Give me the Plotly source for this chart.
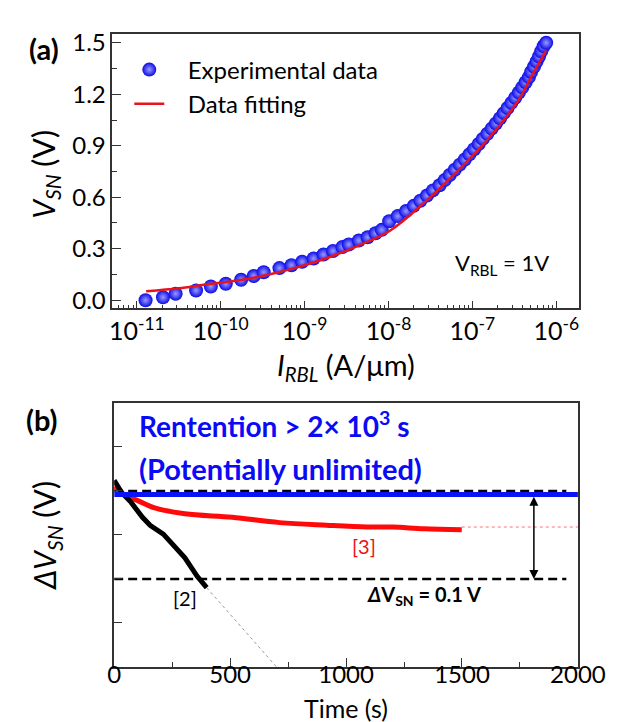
import plotly.graph_objects as go

W, H = 631, 722

# ---------------- Panel (a) data ----------------
exp_current = [1.27e-11, 2.05e-11, 2.90e-11, 5.08e-11, 7.62e-11, 1.15e-10, 1.75e-10,
               2.47e-10, 3.25e-10, 5.01e-10, 6.97e-10, 9.35e-10, 1.28e-9, 1.68e-9,
               2.18e-9, 2.83e-9, 3.36e-9, 4.43e-9, 5.64e-9, 7.00e-9, 8.32e-9, 1.02e-8,
               1.29e-8, 1.62e-8, 2.00e-8, 2.40e-8, 2.88e-8, 3.39e-8, 4.07e-8, 4.68e-8,
               5.37e-8, 6.17e-8, 7.08e-8, 8.13e-8, 9.23e-8, 1.05e-7, 1.19e-7, 1.33e-7,
               1.51e-7, 1.70e-7, 1.91e-7, 2.14e-7, 2.37e-7, 2.63e-7, 2.92e-7, 3.24e-7,
               3.59e-7, 3.94e-7, 4.32e-7, 4.73e-7, 5.01e-7, 5.43e-7, 5.82e-7, 6.24e-7,
               6.61e-7, 7.08e-7, 7.59e-7]
exp_vsn = [0.000, 0.017, 0.038, 0.057, 0.080, 0.096, 0.119,
           0.141, 0.163, 0.187, 0.204, 0.224, 0.243, 0.266,
           0.287, 0.310, 0.325, 0.348, 0.367, 0.390, 0.410, 0.460,
           0.490, 0.520, 0.550, 0.580, 0.610, 0.640, 0.670, 0.700,
           0.730, 0.760, 0.790, 0.820, 0.850, 0.880, 0.910, 0.940,
           0.970, 1.000, 1.030, 1.060, 1.090, 1.120, 1.150, 1.180,
           1.210, 1.240, 1.270, 1.300, 1.330, 1.360, 1.390, 1.420,
           1.450, 1.480, 1.500]

fit_current = [1.29e-11, 3.16e-11, 6.31e-11, 1.58e-10, 3.55e-10, 7.94e-10, 2.0e-9,
               4.47e-9, 1.04e-8, 2.69e-8, 6.31e-8, 1.51e-7, 3.55e-7, 5.01e-7, 7.59e-7]
fit_vsn = [0.052, 0.070, 0.090, 0.115, 0.147, 0.190, 0.252,
           0.320, 0.405, 0.570, 0.740, 0.935, 1.165, 1.300, 1.456]

current_tickvals = [1e-11, 1e-10, 1e-9, 1e-8, 1e-7, 1e-6]
current_ticktext = ["10<sup>-11</sup>", "10<sup>-10</sup>", "10<sup>-9</sup>",
                    "10<sup>-8</sup>", "10<sup>-7</sup>", "10<sup>-6</sup>"]

# ---------------- Panel (b) data ----------------
t_ref2 = [0, 33, 73, 122, 155, 212, 305, 358, 399]
dv_ref2 = [0.012, -0.002, -0.013, -0.030, -0.039, -0.049, -0.076, -0.097, -0.110]
t_ref2_ext = [399, 700]
dv_ref2_ext = [-0.110, -0.200]

t_ref3 = [0, 33, 102, 171, 305, 509, 713, 916, 1092, 1202, 1336, 1499]
dv_ref3 = [0.005, -0.003, -0.011, -0.019, -0.026, -0.030, -0.036, -0.039, -0.041,
           -0.041, -0.043, -0.044]
t_ref3_ext = [1499, 2000]
dv_ref3_ext = [-0.041, -0.041]

t_this = [0, 2000]
dv_this = [-0.004, -0.004]

t_guide = [0, 1950]
dv_guide_top = [0.0, 0.0]
dv_guide_bottom = [-0.1, -0.1]

arrow_t = 1810
arrow_top = -0.005
arrow_bottom = -0.1


def px(x):
    return x / W


def py(y):
    return 1 - y / H


fig = go.Figure()

fig.add_trace(go.Scatter(
    x=exp_current, y=exp_vsn, mode="markers",
    name="\u00a0\u00a0\u00a0Experimental data", legendgroup="a",
    marker=dict(size=14, color="#0a0ae8",
                gradient=dict(type="radial", color="#9a9aff"),
                line=dict(width=0)),
    xaxis="x", yaxis="y"))
fig.add_trace(go.Scatter(
    x=fit_current, y=fit_vsn, mode="lines",
    name="\u00a0\u00a0\u00a0Data fitting", legendgroup="b",
    line=dict(color="#e8141c", width=2.5, shape="spline"),
    xaxis="x", yaxis="y"))

# panel b
fig.add_trace(go.Scatter(x=t_guide, y=dv_guide_top, mode="lines", showlegend=False,
                         line=dict(color="black", width=2.5, dash="9px,5px"),
                         xaxis="x2", yaxis="y2"))
fig.add_trace(go.Scatter(x=t_guide, y=dv_guide_bottom, mode="lines", showlegend=False,
                         line=dict(color="black", width=2.5, dash="9px,5px"),
                         xaxis="x2", yaxis="y2"))
fig.add_trace(go.Scatter(x=t_ref2_ext, y=dv_ref2_ext, mode="lines", showlegend=False,
                         line=dict(color="#999999", width=1, dash="dot"),
                         xaxis="x2", yaxis="y2"))
fig.add_trace(go.Scatter(x=t_ref3_ext, y=dv_ref3_ext, mode="lines", showlegend=False,
                         line=dict(color="#ff7070", width=1, dash="dot"),
                         xaxis="x2", yaxis="y2"))
fig.add_trace(go.Scatter(x=t_ref3, y=dv_ref3, mode="lines", showlegend=False,
                         line=dict(color="#ff0a0a", width=5, shape="spline"),
                         xaxis="x2", yaxis="y2"))
fig.add_trace(go.Scatter(x=t_ref2, y=dv_ref2, mode="lines", showlegend=False,
                         line=dict(color="black", width=5),
                         xaxis="x2", yaxis="y2"))
fig.add_trace(go.Scatter(x=t_this, y=dv_this, mode="lines", showlegend=False,
                         line=dict(color="#0a14f5", width=5),
                         xaxis="x2", yaxis="y2"))

axis_common = dict(showline=True, linecolor="#333333", linewidth=1.5, mirror=True,
                   ticks="inside", tickcolor="#333333", tickwidth=1.2,
                   showgrid=False, zeroline=False)

fig.update_layout(
    width=W, height=H,
    margin=dict(l=0, r=0, t=0, b=0),
    paper_bgcolor="white", plot_bgcolor="white",
    font=dict(family="Lato", color="black"),
    showlegend=True,
    legend=dict(x=px(121), y=py(34), xanchor="left", yanchor="top",
                bgcolor="rgba(0,0,0,0)", font=dict(size=24),
                tracegroupgap=4, traceorder="normal"),
    xaxis=dict(domain=[px(103), px(597)], type="log", range=[-11.293, -5.730],
               tickvals=current_tickvals, ticktext=current_ticktext, ticklen=8,
               tickfont=dict(size=25), anchor="y", ticklabelstandoff=0,
               minor=dict(ticks="inside", ticklen=4, tickwidth=1, tickcolor="#333333",
                          dtick="D1", showgrid=False),
               **axis_common),
    yaxis=dict(domain=[py(299), py(20)], range=[-0.048, 1.553], dtick=0.3, tick0=0,
               tickformat=".1f", ticklen=9, tickfont=dict(size=24), anchor="x",
               minor=dict(ticks="inside", ticklen=5, tickwidth=1, tickcolor="#333333",
                          dtick=0.15, tick0=0, showgrid=False),
               **axis_common),
    xaxis2=dict(domain=[px(105), px(596)], range=[0, 2000], dtick=500, ticklen=9,
                tickfont=dict(size=24), anchor="y2", ticklabelstandoff=-14,
                minor=dict(ticks="inside", ticklen=5, tickwidth=1, tickcolor="#333333",
                           dtick=250, showgrid=False),
                **axis_common),
    yaxis2=dict(domain=[py(663), py(395)], range=[-0.2, 0.1], dtick=0.05, tick0=0,
                showticklabels=False, ticklen=8, anchor="x2",
                **axis_common),
)

ann = []


def add_text(text, x, y, size, color="black", xanchor="center", angle=0):
    ann.append(dict(text=text, x=px(x), y=py(y), xref="paper", yref="paper",
                    xanchor=xanchor, yanchor="middle", showarrow=False,
                    textangle=angle, font=dict(size=size, color=color, family="Lato")))


add_text("<b>(a)</b>", 31, 35, 29)
add_text("<b>(b)</b>", 29, 412, 29)
add_text("<i>V</i><sub><i>SN</i></sub> (V)", 31, 163, 30, angle=-90)
add_text("<i>I</i><sub><i>RBL</i></sub> (A/\u03bcm)", 350, 358, 29)
add_text("V<sub>RBL</sub> = 1V", 516, 254, 22)
add_text("<i>\u0394V</i><sub><i>SN</i></sub> (V)", 33, 530, 30, angle=-90)
add_text("Time (s)", 350, 705, 25)
add_text("<b>Rentention > 2\u00d7 10<sup>3</sup> s</b>", 129, 417, 28, color="#0a0af5",
         xanchor="left")
add_text("<b>(Potentially unlimited)</b>", 129, 462, 29, color="#0a0af5", xanchor="left")
add_text("[3]", 369, 540, 20, color="#ee1111")
add_text("[2]", 180, 593, 20)
add_text("<b><i>\u0394</i>V<sub>SN</sub> = 0.1 V</b>", 433, 590, 20)

ann.append(dict(x=arrow_t, y=arrow_bottom, ax=arrow_t, ay=arrow_top,
                xref="x2", yref="y2", axref="x2", ayref="y2", text="",
                showarrow=True, arrowhead=2, arrowsize=1.2, arrowwidth=1.5,
                arrowcolor="black", arrowside="end+start"))

fig.update_layout(annotations=ann)

fig.write_html("out.html")
